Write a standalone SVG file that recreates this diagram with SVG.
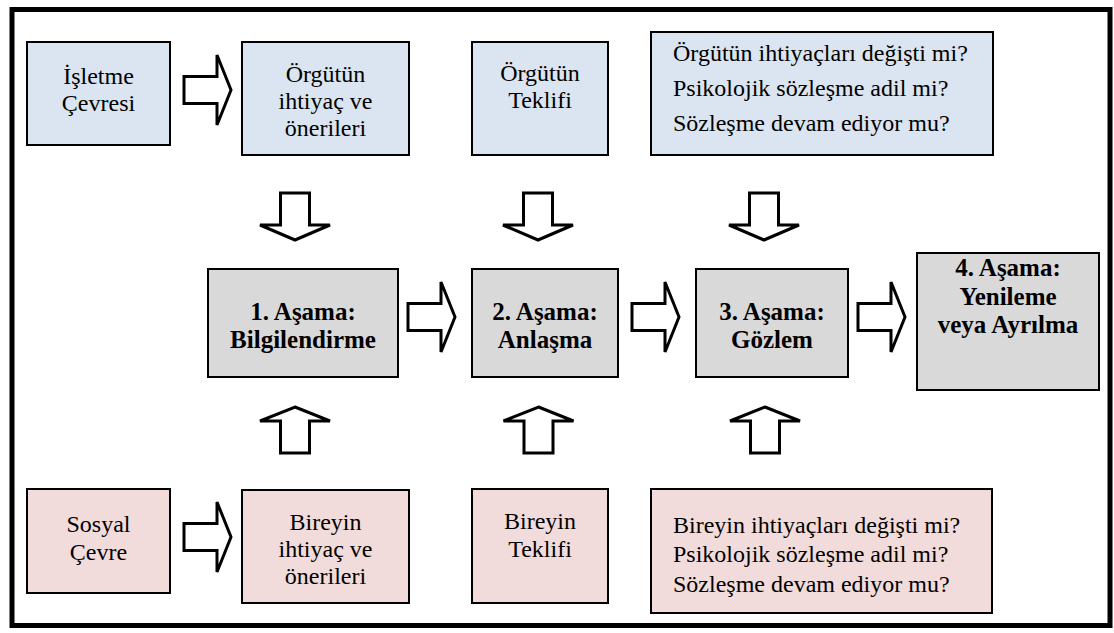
<svg xmlns="http://www.w3.org/2000/svg" width="1114" height="633" viewBox="0 0 1114 633" font-family="'Liberation Serif', 'Times New Roman', 'DejaVu Serif', serif">
  <style>
    .org rect { fill: #dbe5f1; stroke: #000; stroke-width: 2; }
    .stage rect { fill: #d9d9d9; stroke: #000; stroke-width: 2; }
    .ind rect { fill: #f2dcdb; stroke: #000; stroke-width: 2; }
    text { font-size: 24px; fill: #000; }
    .c { text-anchor: middle; }
    .b { font-weight: bold; font-size: 25px; }
    .arrow { fill: #fff; stroke: #000; stroke-width: 3; stroke-linejoin: miter; }
  </style>
  <defs>
    <!-- block arrows, drawn with origin at the tail centre -->
    <path id="arrR" d="M0,-13.5 H33 V-35 L47,0 L33,35 V13.5 H0 Z"/>
    <path id="arrD" d="M-14.5,0 H14.5 V32 H35 L0,47 L-35,32 H-14.5 Z"/>
    <path id="arrU" d="M0,0 L35,14 H14.5 V46 H-14.5 V14 H-35 Z"/>
  </defs>

  <rect width="1114" height="633" fill="#fff"/>
  <!-- outer frame -->
  <rect x="12" y="9.5" width="1098" height="616" fill="none" stroke="#000" stroke-width="5"/>

  <!-- organisation side (top row) -->
  <g id="isletme-cevresi" class="org">
    <rect x="27" y="42" width="143" height="103"/>
    <text class="c" x="98.5" y="84">İşletme</text>
    <text class="c" x="98.5" y="111">Çevresi</text>
  </g>
  <g id="orgutun-ihtiyac" class="org">
    <rect x="242" y="42" width="167" height="113"/>
    <text class="c" x="325.5" y="82">Örgütün</text>
    <text class="c" x="325.5" y="109">ihtiyaç ve</text>
    <text class="c" x="325.5" y="136">önerileri</text>
  </g>
  <g id="orgutun-teklifi" class="org">
    <rect x="472" y="42" width="136" height="113"/>
    <text class="c" x="540" y="81">Örgütün</text>
    <text class="c" x="540" y="108">Teklifi</text>
  </g>
  <g id="orgutun-sorular" class="org">
    <rect x="651" y="32" width="342" height="123"/>
    <text x="673" y="61">Örgütün ihtiyaçları değişti mi?</text>
    <text x="673" y="96">Psikolojik sözleşme adil mi?</text>
    <text x="673" y="131">Sözleşme devam ediyor mu?</text>
  </g>

  <!-- stages (middle row) -->
  <g id="asama-1" class="stage">
    <rect x="208" y="269" width="190" height="108"/>
    <text class="c b" x="303" y="320">1. Aşama:</text>
    <text class="c b" x="303" y="348">Bilgilendirme</text>
  </g>
  <g id="asama-2" class="stage">
    <rect x="472" y="269" width="146" height="108"/>
    <text class="c b" x="545" y="320">2. Aşama:</text>
    <text class="c b" x="545" y="348">Anlaşma</text>
  </g>
  <g id="asama-3" class="stage">
    <rect x="696" y="269" width="152" height="108"/>
    <text class="c b" x="772" y="320">3. Aşama:</text>
    <text class="c b" x="772" y="348">Gözlem</text>
  </g>
  <g id="asama-4" class="stage">
    <rect x="917" y="253" width="182" height="137"/>
    <text class="c b" x="1008" y="276">4. Aşama:</text>
    <text class="c b" x="1008" y="305">Yenileme</text>
    <text class="c b" x="1008" y="333">veya Ayrılma</text>
  </g>

  <!-- individual side (bottom row) -->
  <g id="sosyal-cevre" class="ind">
    <rect x="27" y="489" width="143" height="104"/>
    <text class="c" x="98.5" y="532">Sosyal</text>
    <text class="c" x="98.5" y="560">Çevre</text>
  </g>
  <g id="bireyin-ihtiyac" class="ind">
    <rect x="242" y="490" width="167" height="113"/>
    <text class="c" x="325.5" y="530">Bireyin</text>
    <text class="c" x="325.5" y="557">ihtiyaç ve</text>
    <text class="c" x="325.5" y="584">önerileri</text>
  </g>
  <g id="bireyin-teklifi" class="ind">
    <rect x="472" y="489" width="136" height="114"/>
    <text class="c" x="540" y="529">Bireyin</text>
    <text class="c" x="540" y="557">Teklifi</text>
  </g>
  <g id="bireyin-sorular" class="ind">
    <rect x="651" y="489" width="341" height="124"/>
    <text x="673" y="533">Bireyin ihtiyaçları değişti mi?</text>
    <text x="673" y="562">Psikolojik sözleşme adil mi?</text>
    <text x="673" y="592">Sözleşme devam ediyor mu?</text>
  </g>

  <!-- block-arrow connectors -->
  <g id="connectors" class="arrow">
    <use href="#arrR" x="184" y="90"/>
    <use href="#arrR" x="184" y="537"/>
    <use href="#arrR" x="408" y="317"/>
    <use href="#arrR" x="632" y="317"/>
    <use href="#arrR" x="858" y="317"/>
    <use href="#arrD" x="295" y="193"/>
    <use href="#arrD" x="538" y="193"/>
    <use href="#arrD" x="764" y="193"/>
    <use href="#arrU" x="295" y="407"/>
    <use href="#arrU" x="538.5" y="407"/>
    <use href="#arrU" x="765" y="407"/>
  </g>
</svg>
